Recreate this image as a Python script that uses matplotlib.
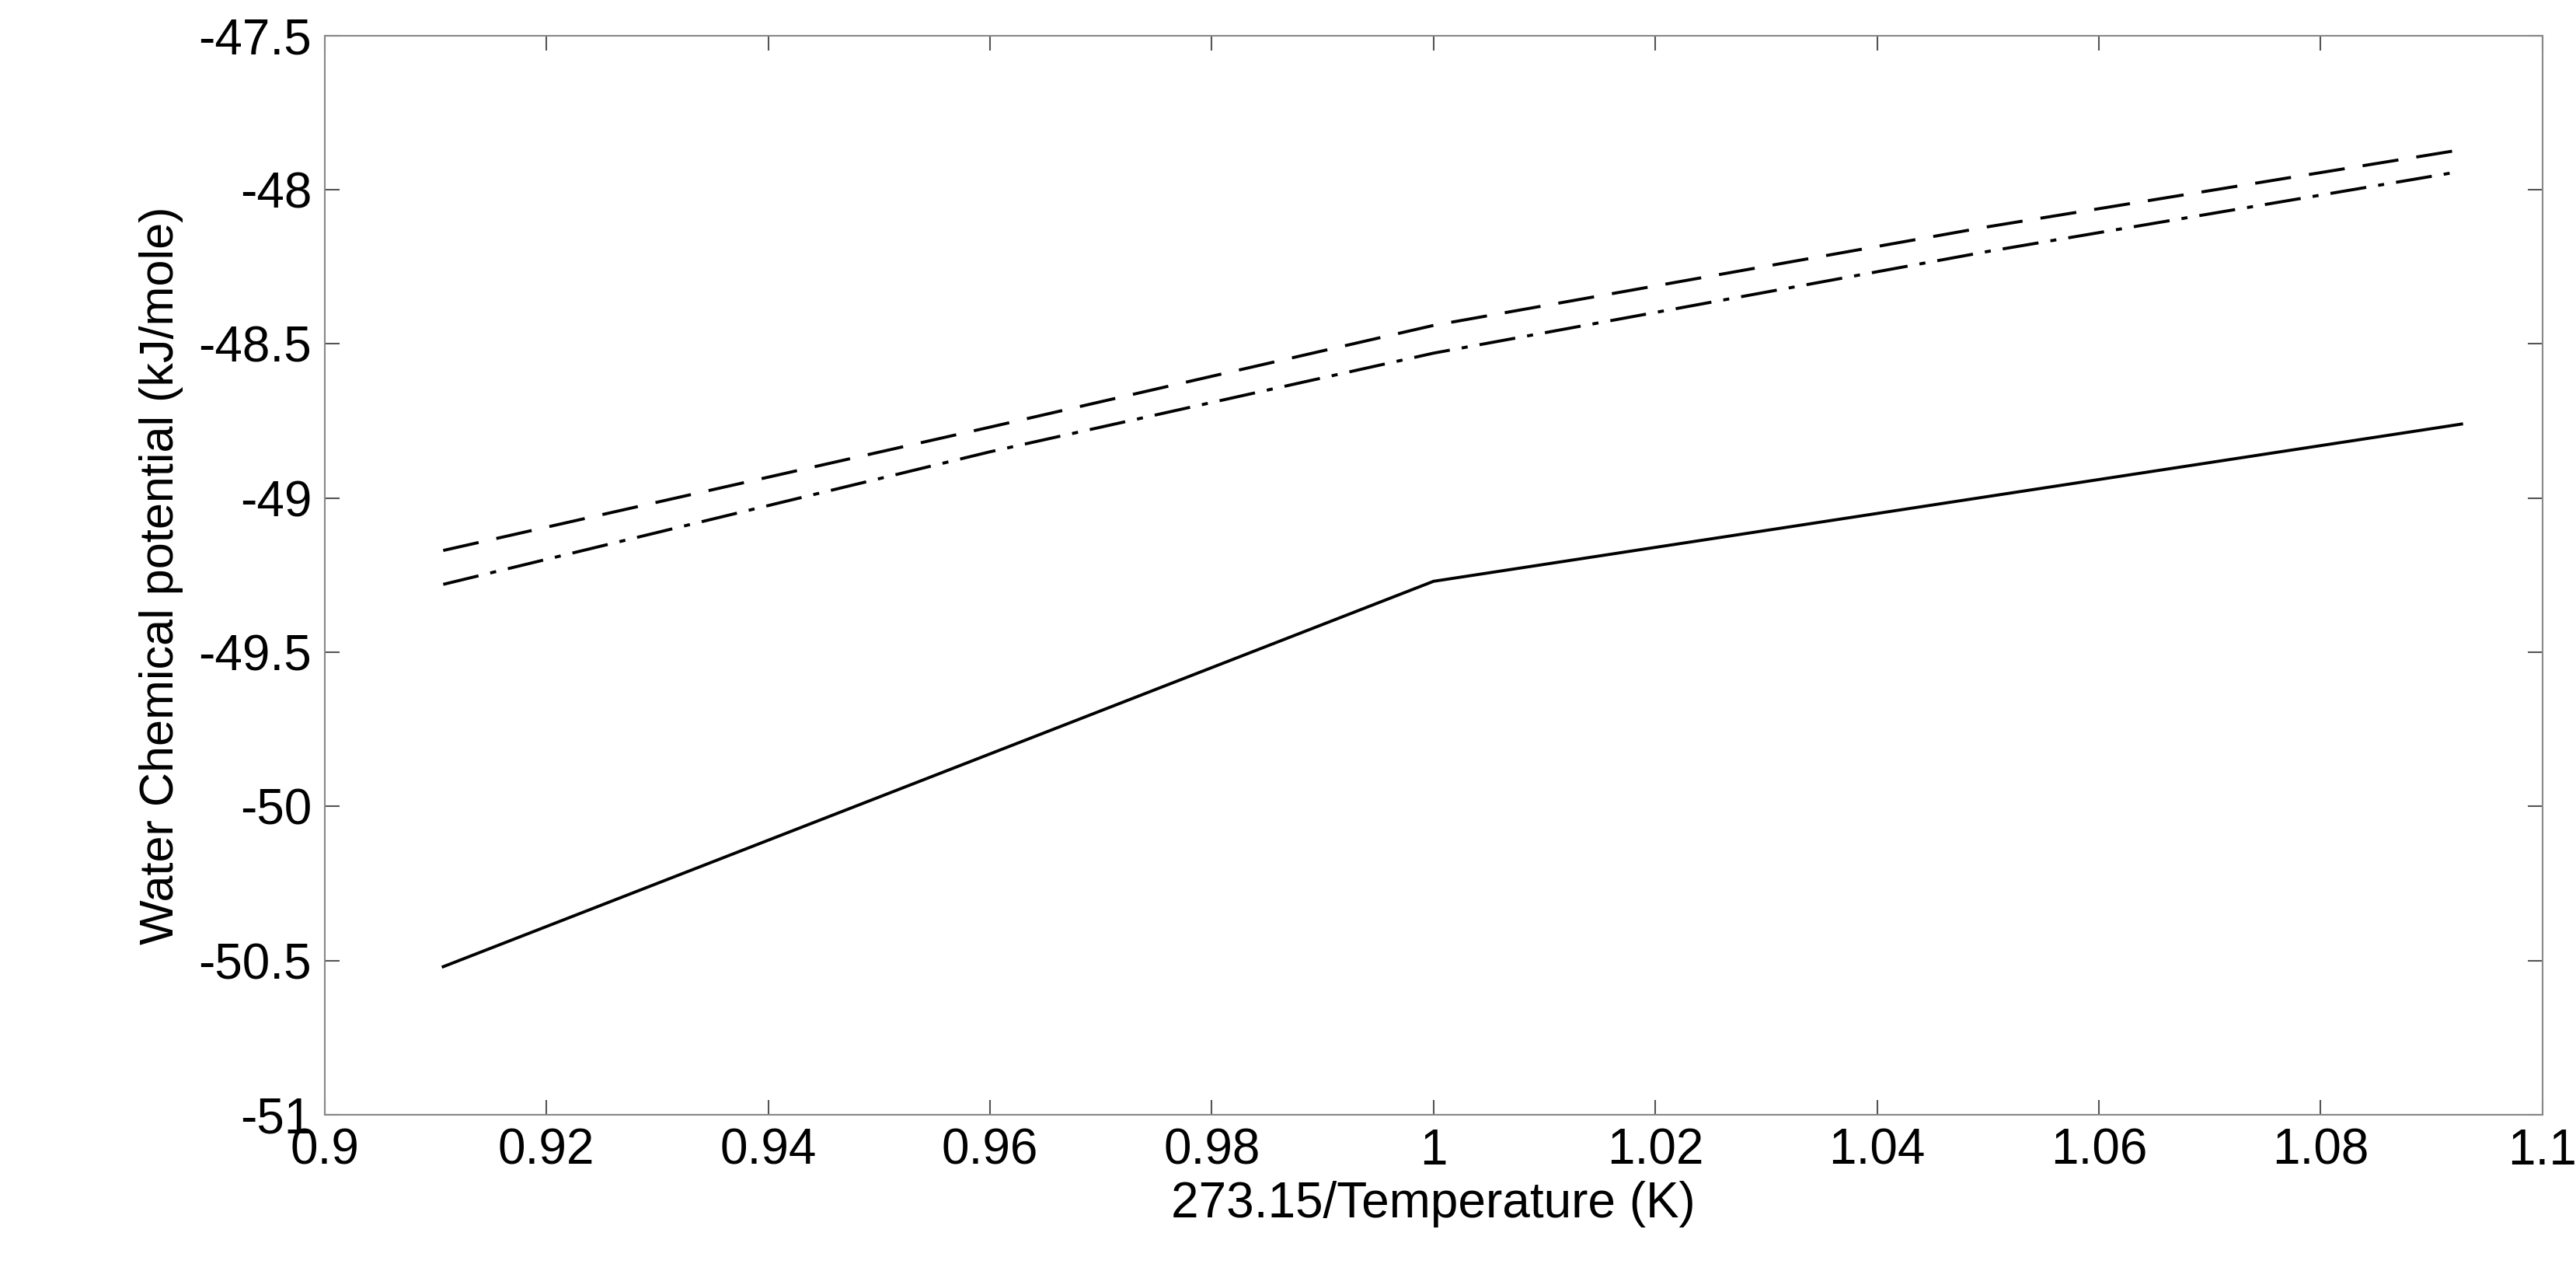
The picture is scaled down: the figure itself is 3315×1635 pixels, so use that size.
import matplotlib
matplotlib.use("Agg")
import matplotlib.pyplot as plt

x_solid = [0.9107, 1.0, 1.0927]
y_solid = [-50.52, -49.27, -48.76]
x_dash = [0.9107, 0.96, 1.0, 1.05, 1.0927]
y_dash = [-49.17, -48.77, -48.44, -48.12, -47.87]
y_dashdot = [-49.28, -48.85, -48.53, -48.20, -47.94]

plt.rcParams['font.family'] = ['Liberation Sans', 'DejaVu Sans']
fig = plt.figure(figsize=(33.15, 16.35), dpi=100)
ax = fig.add_axes([0.126, 0.123, 0.861, 0.849])
ax.plot(x_solid, y_solid, color='black', lw=2.8, ls='-')
ax.plot(x_dash, y_dash, color='black', lw=2.8, ls=(0, (12, 6)))
ax.plot(x_dash, y_dashdot, color='black', lw=2.8, ls=(0, (12, 4, 2, 4)))
ax.set_xlim(0.9, 1.1)
ax.set_ylim(-51, -47.5)
xt = [0.9, 0.92, 0.94, 0.96, 0.98, 1.0, 1.02, 1.04, 1.06, 1.08, 1.1]
ax.set_xticks(xt)
ax.set_xticklabels(['0.9', '0.92', '0.94', '0.96', '0.98', '1', '1.02', '1.04', '1.06', '1.08', '1.1'])
yt = [-51, -50.5, -50, -49.5, -49, -48.5, -48, -47.5]
ax.set_yticks(yt)
ax.set_yticklabels(['-51', '-50.5', '-50', '-49.5', '-49', '-48.5', '-48', '-47.5'])
ax.tick_params(direction='in', length=14, width=1.5, labelsize=46, pad=12, top=True, right=True, color='#555555')
for s in ax.spines.values():
    s.set_color('#888888'); s.set_linewidth(1.5)
ax.set_xlabel('273.15/Temperature (K)', fontsize=46, labelpad=6)
ax.set_ylabel('Water Chemical potential (kJ/mole)', fontsize=44, labelpad=14)
fig.savefig('out.png', dpi=100)
